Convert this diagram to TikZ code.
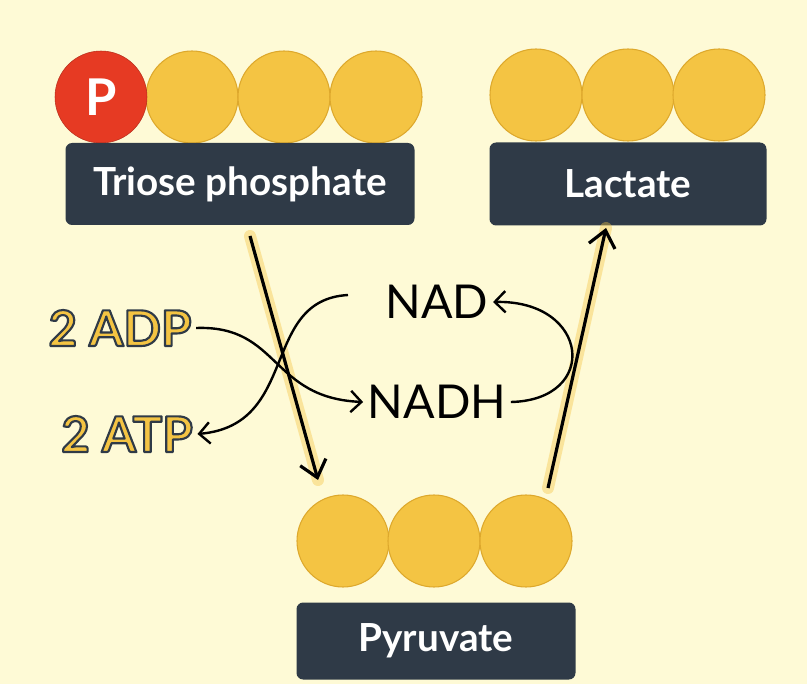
\documentclass[tikz,border=0pt]{standalone}
\usepackage{fontspec}
\setmainfont{Lato}
\usetikzlibrary{arrows.meta}
\definecolor{bg}{HTML}{FEFAD6}
\definecolor{gold}{HTML}{F4C443}
\definecolor{goldl}{HTML}{DDA82C}
\definecolor{box}{HTML}{2F3A47}
\definecolor{pred}{HTML}{E63A23}
\newcommand{\outlined}[1]{\special{pdf:code q 2 Tr 1.6 w 1 j 0.184 0.227 0.278 RG}#1\special{pdf:code Q}}
\begin{document}
\begin{tikzpicture}[x=0.75pt,y=-0.75pt,
  ball/.style={circle,draw=goldl,fill=gold,line width=0.8pt,minimum size=92*0.75pt,inner sep=0},
  lab/.style={rounded corners=5pt,fill=box,text=white,font=\bfseries\fontsize{29}{31}\selectfont,inner sep=0},
  arr/.style={-{Straight Barb[length=12pt,width=20pt]},line width=2.4pt,black},
  glow/.style={line width=9pt,gold,opacity=0.4,line cap=round},
  carr/.style={-{Straight Barb[length=8pt,width=16pt]},line width=1.8pt},
  chem/.style={font=\fontsize{35}{37}\selectfont},
  ya/.style={font=\bfseries\fontsize{37}{39}\selectfont}]
\fill[bg] (0,0) rectangle (807,684);
\useasboundingbox (0,0) rectangle (807,684);
% triose
\node[ball] (t1) at (192,97) {};
\node[ball] (t2) at (284,97) {};
\node[ball] (t3) at (376,97) {};
\node[circle,fill=pred,draw=pred!80!black,minimum size=92*0.75pt,inner sep=0,text=white,font=\bfseries\fontsize{38}{38}\selectfont] (p) at (101,97) {P};
\node[lab,minimum width=349*0.75pt,minimum height=82*0.75pt] (tp) at (240,184) {Triose phosphate};
% lactate
\node[ball] (l1) at (536,95) {};
\node[ball] (l2) at (628,95) {};
\node[ball] (l3) at (719,95) {};
\node[lab,minimum width=277*0.75pt,minimum height=83*0.75pt] (la) at (628,184) {Lactate};
% pyruvate
\node[ball] (p1) at (343,541) {};
\node[ball] (p2) at (434,541) {};
\node[ball] (p3) at (526,541) {};
\node[lab,minimum width=279*0.75pt,minimum height=77*0.75pt] (py) at (436,641) {Pyruvate};
% main arrows
\coordinate (a1) at (250,236); \coordinate (a2) at (318,480);
\coordinate (b1) at (548,488); \coordinate (b2) at (606,228);
\draw[glow] (a1) -- (a2);
\draw[glow] (b1) -- (b2);
\draw[arr] (a1) -- (a2);
\draw[arr] (b1) -- (b2);
% texts
\node[chem] (nad) at (437,302) {NAD};
\node[chem] (nadh) at (437,402) {NADH};
\node[ya,text=gold] (adp) at (120,328) {\outlined{2 ADP}};
\node[ya,text=gold] (atp) at (127,434) {\outlined{2 ATP}};
% curved arrows
\draw[carr] (adp.east) .. controls (280,325) and (270,398) .. (nadh.west);
\draw[carr] (348,295) .. controls (260,300) and (300,425) .. (atp.east);
\draw[carr] (nadh.east) .. controls (600,400) and (590,300) .. (nad.east);
\end{tikzpicture}
\end{document}
